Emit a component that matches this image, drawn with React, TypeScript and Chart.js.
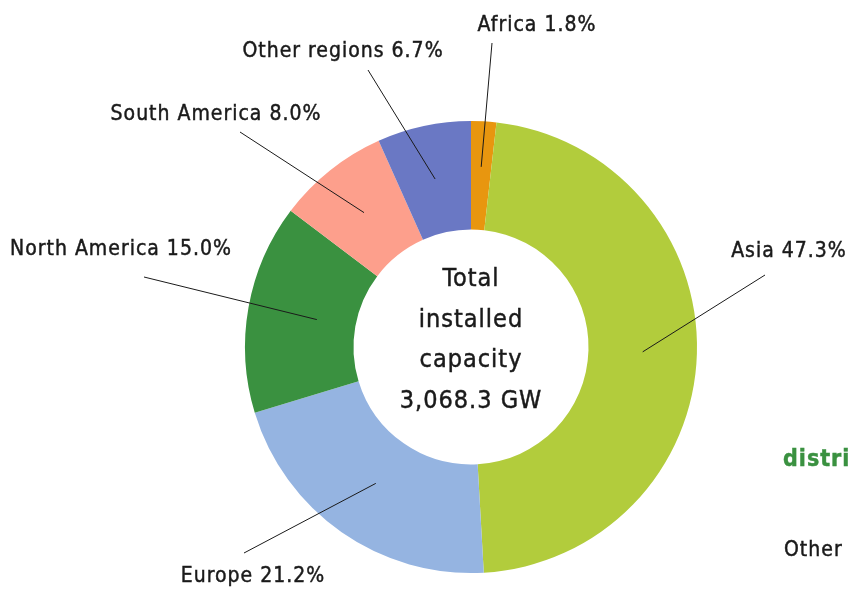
import React, { useEffect, useRef } from "react";
import { Chart, registerables } from "chart.js";

Chart.register(...registerables);

const regions = ["Africa", "Asia", "Europe", "North America", "South America", "Other regions"];
const shares = [1.8, 47.3, 21.2, 15.0, 8.0, 6.7];
const colors = ["#E8960F", "#B2CC3C", "#95B4E1", "#3A9140", "#FD9F8C", "#6A78C4"];
const centerLines = ["Total", "installed", "capacity", "3,068.3 GW"];
const sideTitle = "distribution";
const sideNote = "Other";

// layout: label centres, leader-line end points (pixels) and where in the ring each line starts
const labelCentres: [number, number][] = [[537, 26], [789, 252], [253, 577], [121, 250], [216, 115], [343, 52]];
const lineEnds: [number, number][] = [[492, 43], [765, 275], [244, 553], [144, 277], [240, 132], [368, 70]];
const lineStartFrac = [0.58, 0.5, 0.45, 0.36, 0.5, 0.5];

const FONT = "'DejaVu Sans Condensed', 'DejaVu Sans', sans-serif";

const labelPlugin = {
  id: "leaderLabels",
  afterDraw(chart: any) {
    const ctx: CanvasRenderingContext2D = chart.ctx;
    const meta = chart.getDatasetMeta(0);
    ctx.save();
    ctx.strokeStyle = "#1a1a1a";
    ctx.lineWidth = 1;
    meta.data.forEach((arc: any, i: number) => {
      const p = arc.getProps(["x", "y", "startAngle", "endAngle", "innerRadius", "outerRadius"], true);
      const mid = (p.startAngle + p.endAngle) / 2;
      const r = p.innerRadius + (p.outerRadius - p.innerRadius) * lineStartFrac[i];
      const sx = p.x + Math.cos(mid) * r;
      const sy = p.y + Math.sin(mid) * r;
      ctx.beginPath();
      ctx.moveTo(sx, sy);
      ctx.lineTo(lineEnds[i][0], lineEnds[i][1]);
      ctx.stroke();
    });
    const drawText = (t: string, x: number, y: number, color: string) => {
      ctx.fillStyle = color;
      ctx.strokeStyle = color;
      ctx.lineWidth = 0.45;
      ctx.fillText(t, x, y);
      ctx.strokeText(t, x, y);
    };
    ctx.textAlign = "center";
    ctx.textBaseline = "middle";
    (ctx as any).letterSpacing = "1px";
    ctx.font = `21px ${FONT}`;
    regions.forEach((name, i) => {
      drawText(`${name} ${shares[i].toFixed(1)}%`, labelCentres[i][0], labelCentres[i][1], "#1a1a1a");
    });
    const c = meta.data[0];
    const cx = c.x;
    const cy = c.y;
    ctx.font = `25px ${FONT}`;
    centerLines.forEach((t, i) => {
      drawText(t, cx, cy - 6.5 + (i - 1.5) * 40.5, "#1a1a1a");
    });
    ctx.textAlign = "left";
    ctx.font = `bold 23px ${FONT}`;
    drawText(sideTitle, 783, 460, "#3A9140");
    ctx.font = `21px ${FONT}`;
    drawText(sideNote, 784, 551, "#1a1a1a");
    ctx.restore();
  },
};

export default function App() {
  const ref = useRef<HTMLCanvasElement | null>(null);
  useEffect(() => {
    if (!ref.current) return;
    const chart = new Chart(ref.current, {
      type: "doughnut",
      data: {
        labels: regions,
        datasets: [
          {
            data: shares,
            backgroundColor: colors,
            borderWidth: 0,
          },
        ],
      },
      options: {
        animation: false,
        responsive: true,
        maintainAspectRatio: false,
        cutout: "52%",
        layout: { padding: { top: 121, bottom: 17, left: 245, right: 151 } },
        plugins: {
          legend: { display: false },
          tooltip: { enabled: false },
        },
      },
      plugins: [labelPlugin],
    });
    return () => chart.destroy();
  }, []);
  return (
    <div style={{ position: "fixed", left: 0, top: 0, width: 848, height: 590, background: "#fff" }}>
      <canvas ref={ref} />
    </div>
  );
}
